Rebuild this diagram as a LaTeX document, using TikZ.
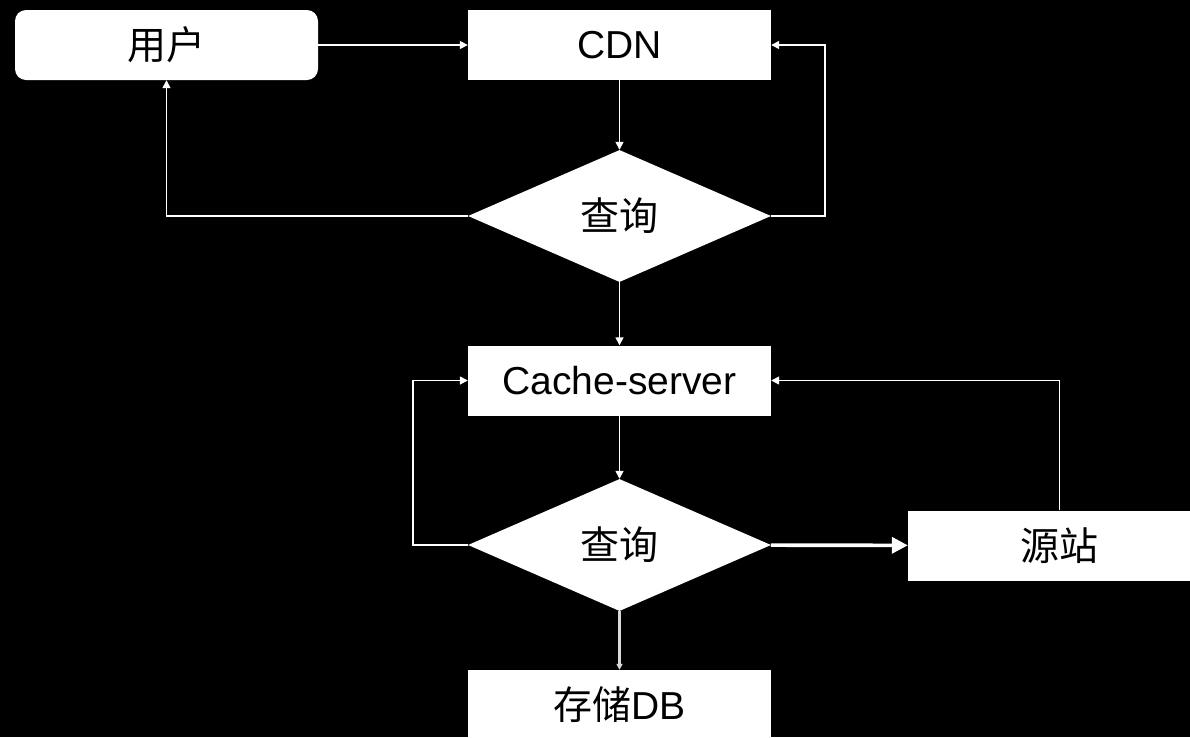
\documentclass[tikz,border=0pt]{standalone}
\usepackage{fontspec}
\setmainfont{Liberation Sans}
\newfontfamily\cjk{Noto Sans CJK SC}
\usetikzlibrary{positioning, shapes.geometric, arrows.meta}

\begin{document}
\begin{tikzpicture}[x=1pt, y=-1pt,
    box/.style={rectangle, fill=white, minimum width=303pt, minimum height=70pt, inner sep=0pt, font=\fontsize{39}{44}\selectfont},
    decision/.style={diamond, fill=white, minimum width=303pt, minimum height=132pt, inner sep=0pt, aspect=2.3, font=\fontsize{39}{44}\selectfont},
    link/.style={draw=white, line width=1.6pt, -{Triangle[width=8pt, length=8pt]}}]
    \fill[black] (0,0) rectangle (1190,737);
    \useasboundingbox (0,0) rectangle (1190,737);

    \node[box, rounded corners=11pt] (user) at (166.5,45) {\cjk 用户};
    \node[box] (cdn) at (619.5,45) {CDN};
    \node[decision] (q1) at (619.5,216) {\cjk 查询};
    \node[box] (cache) at (619.5,380.5) {Cache-server};
    \node[decision] (q2) at (619.5,545) {\cjk 查询};
    \node[box] (site) at (1059.5,545.5) {\cjk 源站};
    \node[box] (db) at (619.5,705) {{\cjk 存储}DB};

    \draw[link] (user) -- (cdn);
    \draw[link] (cdn) -- (q1);
    \draw[link] (q1.east) -- ++(54,0) |- (cdn.east);
    \draw[link] (q1.west) -| (user.south);
    \draw[link] (q1) -- (cache);
    \draw[link] (cache) -- (q2);
    \draw[link] (q2.west) -- ++(-55,0) |- (cache.west);
    \draw[link, line width=3.6pt, -{Triangle[width=16pt, length=16pt]}] (q2) -- (site);
    \draw[link] (site.north) |- (cache.east);
    \draw[link, draw=white!85!black, line width=3.6pt, -{Triangle[width=6pt, length=6pt]}] (q2) -- (db);
\end{tikzpicture}
\end{document}
